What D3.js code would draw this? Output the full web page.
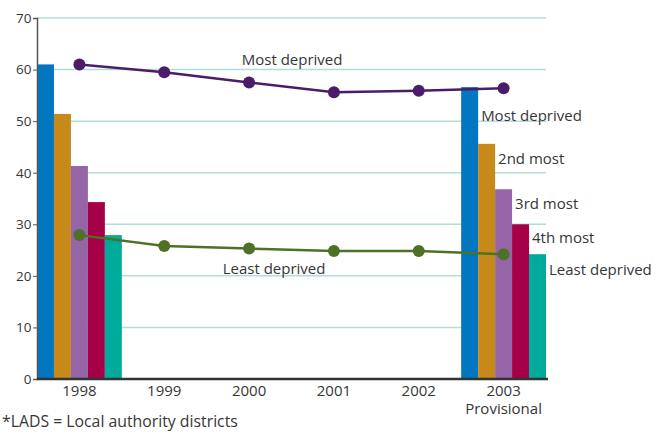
<!DOCTYPE html>
<html>
<head>
<meta charset="utf-8">
<script src="https://cdn.jsdelivr.net/npm/d3@7"></script>
<style>
  html, body { margin: 0; padding: 0; background: #fff; }
  svg { display: block; font-family: "Open Sans", sans-serif; }
</style>
</head>
<body>
<svg id="chart" width="667" height="434"></svg>
<script>
// Years on the horizontal axis
const years = ["1998", "1999", "2000", "2001", "2002", "2003"];
const yearSub = ["", "", "", "", "", "Provisional"];

// Quintile groups (bars) and their colours
const groups = ["Most deprived", "2nd most", "3rd most", "4th most", "Least deprived"];
const groupColors = ["#0077c0", "#c8891b", "#9565a8", "#a50048", "#00ab9b"];

// Bar values for the two years shown as bars
const bars1998 = [61.0, 51.4, 41.3, 34.3, 27.9];
const bars2003 = [56.6, 45.6, 36.8, 30.0, 24.2];

// Line series across all years
const mostDeprived = [61.0, 59.5, 57.5, 55.6, 55.9, 56.4];
const leastDeprived = [27.9, 25.8, 25.3, 24.8, 24.8, 24.2];

const yTicks = [0, 10, 20, 30, 40, 50, 60, 70];

const svg = d3.select("#chart");
const plotL = 37, plotR = 546, plotT = 18, plotB = 379;
const textColor = "#363636";
const fontSize = "15px";

const x = d3.scaleBand().domain(years).range([plotL, plotR]).padding(0);
const y = d3.scaleLinear().domain([0, 70]).range([plotB, plotT]);
const xg = d3.scaleBand().domain(groups).range([0, x.bandwidth()]).padding(0);

// Horizontal gridlines
svg.append("g")
  .selectAll("line")
  .data(yTicks.filter(d => d > 0))
  .join("line")
  .attr("x1", plotL).attr("x2", plotR)
  .attr("y1", d => y(d)).attr("y2", d => y(d))
  .attr("stroke", "#b0dfda").attr("stroke-width", 1.5);

// Bars
const barData = [
  { year: "1998", values: bars1998 },
  { year: "2003", values: bars2003 }
];
svg.append("g")
  .selectAll("g")
  .data(barData)
  .join("g")
  .attr("transform", d => `translate(${x(d.year)},0)`)
  .selectAll("rect")
  .data(d => d.values.map((v, i) => ({ g: groups[i], v, c: groupColors[i] })))
  .join("rect")
  .attr("x", d => xg(d.g))
  .attr("width", xg.bandwidth())
  .attr("y", d => y(d.v))
  .attr("height", d => y(0) - y(d.v))
  .attr("fill", d => d.c);

// Y axis
const yAxis = svg.append("g")
  .attr("transform", `translate(${plotL},0)`)
  .call(d3.axisLeft(y).tickValues(yTicks).tickSize(4).tickPadding(1.5));
yAxis.select(".domain").attr("stroke", "#555").attr("stroke-width", 1.5);
yAxis.selectAll(".tick line").attr("stroke", "#555");
yAxis.selectAll("text").attr("fill", textColor).style("font-size", "13.5px").style("font-family", "Open Sans");

// X axis; the last year carries a second line ("Provisional")
const xAxis = svg.append("g")
  .attr("transform", `translate(0,${plotB})`)
  .call(d3.axisBottom(x).tickSize(0).tickPadding(6.5));
xAxis.select(".domain").attr("stroke", "#333").attr("stroke-width", 2.5)
  .attr("d", `M${plotL},0H${plotR + 2}`);
xAxis.selectAll(".tick text")
  .attr("fill", textColor).style("font-size", fontSize).style("font-family", "Open Sans")
  .each(function (d, i) {
    const sub = yearSub[i];
    if (!sub) return;
    const t = d3.select(this).text(null);
    t.append("tspan").attr("x", 0).text(d);
    t.append("tspan").attr("x", 0).attr("dy", "1.2em").text(sub);
  });

// Lines with markers
const cx = d => x(d) + x.bandwidth() / 2;
const lineGen = d3.line().x(d => cx(d.year)).y(d => y(d.v));
const series = [
  { name: "Most deprived", values: mostDeprived, color: "#4b1c6a" },
  { name: "Least deprived", values: leastDeprived, color: "#4f7126" }
];
series.forEach(s => {
  const pts = years.map((yr, i) => ({ year: yr, v: s.values[i] }));
  svg.append("path").datum(pts)
    .attr("d", lineGen)
    .attr("fill", "none").attr("stroke", s.color).attr("stroke-width", 2.5);
  svg.append("g").selectAll("circle").data(pts).join("circle")
    .attr("cx", d => cx(d.year)).attr("cy", d => y(d.v))
    .attr("r", 6).attr("fill", s.color);
});

// Series labels
const label = (t, xx, yy, anchor, size) => svg.append("text")
  .attr("x", xx).attr("y", yy).attr("text-anchor", anchor || "start")
  .attr("fill", textColor).style("font-size", size || fontSize).text(t);

label("Most deprived", cx("2000") + 43, 65, "middle");
label("Least deprived", cx("2000") + 25, 274, "middle");

// Bar group labels beside the 2003 bars
const x03 = x("2003");
const grpLabelY = [121, 164, 208.5, 243, 275];
groups.forEach((g, i) => {
  label(g, x03 + xg(g) + xg.bandwidth() + 3, grpLabelY[i]);
});

// Footnote
label("*LADS = Local authority districts", 2, 427, "start", "15.8px");
</script>
</body>
</html>
